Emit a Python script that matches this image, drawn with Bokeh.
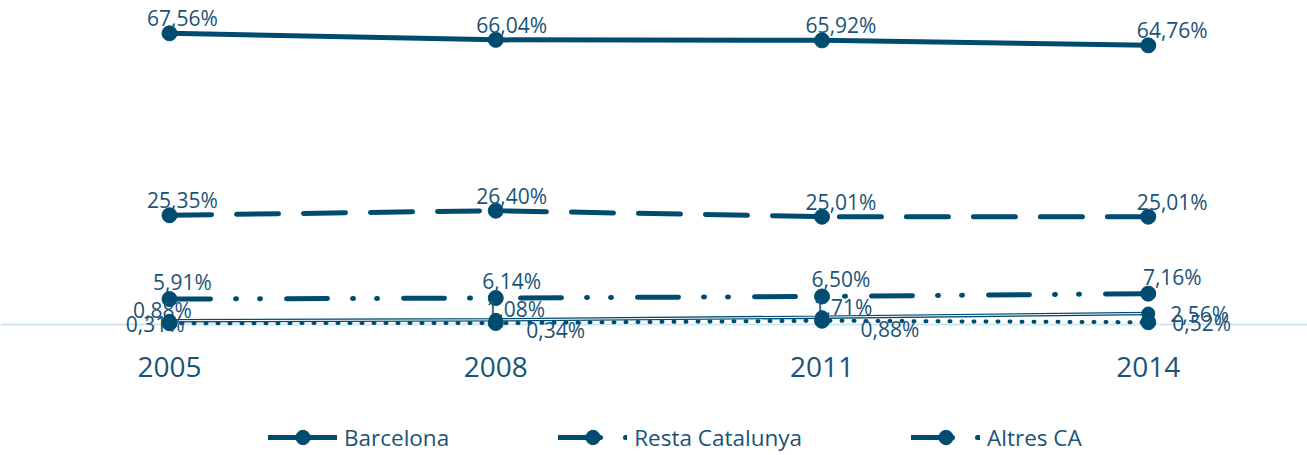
from bokeh.plotting import figure
from bokeh.layouts import column
from bokeh.models import Span, Legend, LegendItem, FixedTicker, Range1d, ColumnDataSource
from bokeh.core.properties import value
from bokeh.embed import file_html
from bokeh.resources import INLINE

# ---- data ----
years = ["2005", "2008", "2011", "2014"]
barcelona = [67.56, 66.04, 65.92, 64.76]
resta_catalunya = [25.35, 26.40, 25.01, 25.01]
altres_ca = [5.91, 6.14, 6.50, 7.16]
serie_4 = [0.88, 1.08, 1.71, 2.56]
serie_5 = [0.31, 0.34, 0.88, 0.52]
legend_labels = ["Barcelona", "Resta Catalunya", "Altres CA"]

# ---- style ----
COLOR = "#004c70"
TEXT = "#1b5377"
FONT = "Open Sans"
LABEL_SIZE = "21px"
W = 1307

xs = list(range(len(years)))


def fmt(v):
    return f"{v:.2f}".replace(".", ",") + "%"


p = figure(width=W, height=419, output_backend="svg", toolbar_location=None,
           x_range=Range1d(-0.518, 3.488), y_range=Range1d(-4.87, 75.17),
           y_axis_location=None, min_border_left=0, min_border_right=0,
           min_border_top=0, min_border_bottom=74)
p.outline_line_color = None
p.grid.visible = False

p.xaxis.ticker = FixedTicker(ticks=xs)
p.xaxis.major_label_overrides = {i: y for i, y in zip(xs, years)}
p.xaxis.axis_line_color = None
p.xaxis.major_tick_line_color = None
p.xaxis.minor_tick_line_color = None
p.xaxis.major_label_text_font = FONT
p.xaxis.major_label_text_font_size = "28px"
p.xaxis.major_label_text_color = TEXT
p.xaxis.major_label_standoff = 5

p.add_layout(Span(location=0, dimension="width", line_color="#cfe8f8",
                  line_width=2, level="underlay"))


def add_labels(vals, dx, dy, al):
    src = ColumnDataSource(dict(x=xs, y=vals, t=[fmt(v) for v in vals], dx=dx, dy=dy, al=al))
    p.text(x="x", y="y", text="t", x_offset="dx", y_offset="dy", text_align="al",
           text_baseline="alphabetic", source=src, text_font=value(FONT),
           text_font_size=LABEL_SIZE, text_color=TEXT)


line_styles = [
    dict(line_color=COLOR, line_width=5, line_cap="round", line_join="round"),
    dict(line_color=COLOR, line_width=5, line_cap="round", line_join="round", line_dash="42 25"),
    dict(line_color=COLOR, line_width=5, line_cap="round", line_join="round",
         line_dash="41 25 1 23 1 26"),
]
main_series = [barcelona, resta_catalunya, altres_ca]

# main series
for vals, st in zip(main_series, line_styles):
    p.line(xs, vals, **st)
    p.scatter(xs, vals, marker="circle", size=15, color=COLOR)

# small series lines
p.line(xs, serie_4, line_color=COLOR, line_width=3.5)
p.line(xs, serie_4, line_color="white", line_width=1)
p.line(xs, serie_5, line_color=COLOR, line_width=4, line_cap="round", line_dash="1 11")

# data labels
above_dx = [13, 16, 19, 24]
add_labels(serie_4, [-7, 20, 21, 22], [-11, -11, -10, 1], ["center", "center", "center", "left"])
add_labels(serie_5, [15, 60, 68, 24], [1, 7, 8, 1], ["right", "center", "center", "left"])

p.scatter(xs, serie_4, marker="circle", size=13, color=COLOR)
p.scatter(xs, serie_5, marker="circle", size=15, color=COLOR)

add_labels(barcelona, above_dx, [-15] * 4, ["center"] * 4)
add_labels(resta_catalunya, above_dx, [-15] * 4, ["center"] * 4)
add_labels(altres_ca, above_dx, [-17] * 4, ["center"] * 4)

# ---- legend strip (series drawn off-range so only the legend shows) ----
lg = figure(width=W, height=36, output_backend="svg", toolbar_location=None,
            x_range=Range1d(0, 1), y_range=Range1d(-2, -1),
            x_axis_location=None, y_axis_location=None,
            min_border_left=0, min_border_right=0, min_border_top=0, min_border_bottom=0)
lg.outline_line_color = None
lg.grid.visible = False
items = []
for lab, vals, st in zip(legend_labels, main_series, line_styles):
    r1 = lg.line(xs, vals, **st)
    r2 = lg.scatter(xs, vals, marker="circle", size=15, color=COLOR)
    items.append(LegendItem(label=lab, renderers=[r1, r2]))
legend = Legend(items=items, orientation="horizontal", location=(268, 0),
                glyph_width=69, glyph_height=36, label_standoff=7, spacing=109,
                padding=0, margin=0, label_text_font=FONT, label_text_font_size="22.5px",
                label_text_color=TEXT, border_line_color=None, background_fill_alpha=0)
lg.add_layout(legend)

open("out.html", "w").write(file_html(column(p, lg, spacing=0), INLINE))
